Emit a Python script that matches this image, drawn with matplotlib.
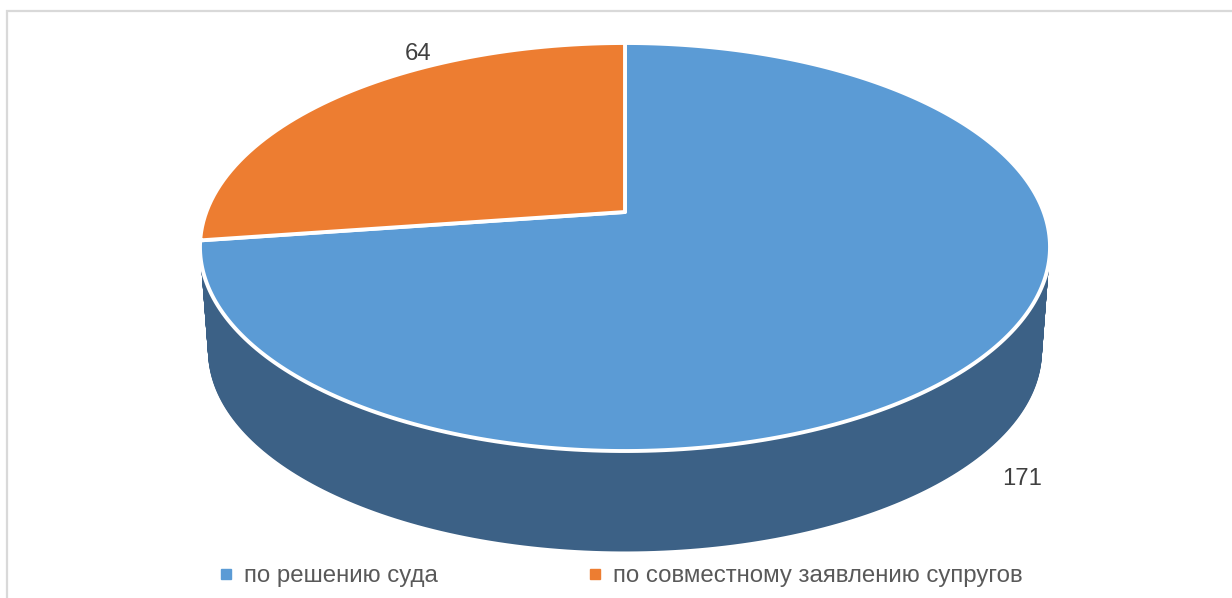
import numpy as np
import matplotlib
matplotlib.use('Agg')
import matplotlib.pyplot as plt
from matplotlib.lines import Line2D
from matplotlib.path import Path
from matplotlib.transforms import Transform, Affine2D

plt.rcParams['font.family'] = ['Liberation Sans', 'DejaVu Sans']

labels = ['по решению суда', 'по совместному заявлению супругов']
values = [171, 64]
colors = ['#5B9BD5', '#ED7D31']
side_colors = ['#3C6186', '#A0521E']
text_color = '#404040'
legend_color = '#595959'


class Tilt(Transform):
    # tilts the unit circle of the pie away from the viewer
    input_dims = 2
    output_dims = 2

    def __init__(self, k):
        super().__init__()
        self.k = k

    def transform_non_affine(self, xy):
        xy = np.asarray(xy)
        d = 1 + self.k * xy[:, 1]
        return np.column_stack([xy[:, 0] / d, xy[:, 1] / d])

    def transform_path_non_affine(self, path):
        # flatten the arcs first, bezier control points do not survive the tilt
        big = Affine2D().scale(2000).transform_path(path)
        poly = big.to_polygons(closed_only=False)[0] / 2000
        return Path(self.transform_non_affine(poly), closed=True)


fig = plt.figure(figsize=(12.32, 5.98), dpi=100)
ax = fig.add_axes([0, 0, 1, 1])

tilt = Tilt(0.1716)


def draw_pie(cx, cy, scale, cols, **kw):
    wedges, _ = ax.pie(values, colors=cols, startangle=90, counterclock=False, **kw)
    place = Affine2D().scale(418.7 * scale, -198 * scale).translate(cx, cy)
    for w in wedges:
        w.set_transform(tilt + place + ax.transData)
    return wedges


# side wall, stacked from the bottom up
depth = np.arange(105, 0, -1)
for d in depth:
    draw_pie(625, 212 + d, 1 - 0.019 * d / 105, side_colors,
             wedgeprops={'linewidth': 0, 'antialiased': True})

# top face
top = draw_pie(625, 212, 1.0, colors,
               wedgeprops={'edgecolor': 'white', 'linewidth': 2.8, 'joinstyle': 'round'})

ax.set_aspect('auto')
ax.set_xlim(0, 1232)
ax.set_ylim(598, 0)
ax.set_axis_off()

ax.text(418.5, 54.5, str(values[1]), fontsize=17.2, color=text_color, ha='center', va='center')
ax.text(1022.5, 479, str(values[0]), fontsize=17.2, color=text_color, ha='center', va='center')

# chart frame
ax.plot([7, 7, 1232], [598, 10.5, 10.5], color='#D9D9D9', lw=1.6, solid_joinstyle='miter')

handles = [Line2D([], [], ls='none', marker='s', ms=7, color=c) for c in colors]
ax.legend(handles, labels, ncols=2, frameon=False, fontsize=17.3, labelcolor=legend_color,
          loc='center left', bbox_to_anchor=(202 / 1232, 1 - 576 / 598),
          borderaxespad=0, borderpad=0, handletextpad=-0.25, columnspacing=5.55)

fig.savefig('out.png', dpi=100)
